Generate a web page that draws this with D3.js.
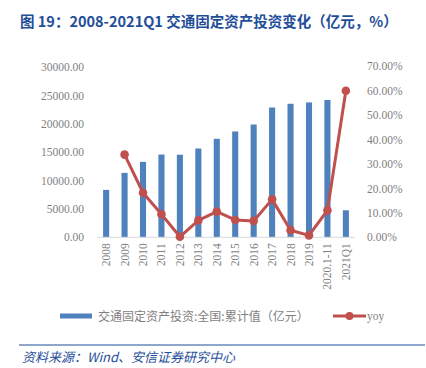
<!DOCTYPE html>
<html><head><meta charset="utf-8">
<script src="https://cdn.jsdelivr.net/npm/d3@7"></script>
<style>body{margin:0;background:#fff;}svg{display:block;}</style>
</head><body>
<svg id="c" width="426" height="368"></svg>
<script>
const categories = ["2008","2009","2010","2011","2012","2013","2014","2015","2016","2017","2018","2019","2020.1-11","2021Q1"];
const investment = [8350,11350,13290,14580,14550,15640,17350,18640,19870,22870,23520,23760,24180,4760];
const yoy = [null,33.8,18.2,9.4,0.2,6.9,10.5,7.1,6.7,15.5,2.9,0.8,11.0,59.9];
const leftTicks = [0,5000,10000,15000,20000,25000,30000];
const rightTicks = [0,10,20,30,40,50,60,70];

const svg = d3.select("#c");
const pLeft = 97, pRight = 355, pTop = 67, pBottom = 237.3;
const x = d3.scaleBand().domain(categories).range([pLeft, pRight]).paddingInner(0.67).paddingOuter(0.33);
const yL = d3.scaleLinear().domain([0,30000]).range([pBottom, pTop]);
const yR = d3.scaleLinear().domain([0,70]).range([pBottom, 66]);
const tickFont = "'Liberation Serif','Times New Roman',serif";
const gray = "#7f7f7f";

// title
svg.append("text").attr("x",20).attr("y",27).attr("fill","#1f4e99")
  .attr("font-family","'Noto Sans CJK SC',sans-serif").attr("font-weight","bold").attr("font-size",14.5)
  .text("图 19：2008-2021Q1 交通固定资产投资变化（亿元，%）");

// left axis
const gl = svg.append("g").attr("transform",`translate(${pLeft},0)`)
  .call(d3.axisLeft(yL).tickValues(leftTicks).tickFormat(d=>d3.format(".2f")(d)).tickSize(0).tickPadding(13));
gl.select(".domain").remove();
gl.selectAll("text").attr("font-family",tickFont).attr("font-size",11.5).attr("fill",gray);

// right axis
const gr = svg.append("g").attr("transform",`translate(${pRight},0)`)
  .call(d3.axisRight(yR).tickValues(rightTicks).tickFormat(d=>d3.format(".2f")(d)+"%").tickSize(0).tickPadding(12));
gr.select(".domain").remove();
gr.selectAll("text").attr("font-family",tickFont).attr("font-size",11.5).attr("fill",gray);

// bars
svg.append("g").selectAll("rect").data(investment).join("rect")
  .attr("x",(d,i)=>x(categories[i])).attr("width",x.bandwidth())
  .attr("y",d=>yL(d)).attr("height",d=>pBottom-yL(d)).attr("fill","#4f81bd");

// baseline
svg.append("line").attr("x1",pLeft).attr("x2",pRight).attr("y1",pBottom).attr("y2",pBottom)
  .attr("stroke","#d9d9d9").attr("stroke-width",1);

// x labels
const gx = svg.append("g").attr("transform",`translate(0,${pBottom})`)
  .call(d3.axisBottom(x).tickSize(0).tickPadding(0));
gx.select(".domain").remove();
gx.selectAll("text").attr("font-family",tickFont).attr("font-size",11.5).attr("fill",gray)
  .attr("text-anchor","end").attr("dy","0.35em")
  .attr("transform","translate(0,6) rotate(-90)");

// line
const pts = yoy.map((v,i)=>({c:categories[i],v})).filter(d=>d.v!==null);
const line = d3.line().x(d=>x(d.c)+x.bandwidth()/2).y(d=>yR(d.v));
svg.append("path").datum(pts).attr("d",line).attr("fill","none").attr("stroke","#c0504d").attr("stroke-width",3).attr("stroke-linejoin","round");
svg.append("g").selectAll("circle").data(pts).join("circle")
  .attr("cx",d=>x(d.c)+x.bandwidth()/2).attr("cy",d=>yR(d.v)).attr("r",4.3).attr("fill","#c0504d");

// legend
const ly = 316;
svg.append("rect").attr("x",60).attr("y",ly-2.5).attr("width",32).attr("height",5).attr("fill","#4f81bd");
svg.append("text").attr("x",98).attr("y",ly+4.5).attr("font-family","'Noto Sans CJK SC',sans-serif").attr("font-size",12).attr("fill",gray)
  .text("交通固定资产投资:全国:累计值（亿元）");
svg.append("line").attr("x1",333).attr("x2",366).attr("y1",ly).attr("y2",ly).attr("stroke","#c0504d").attr("stroke-width",3);
svg.append("circle").attr("cx",349.5).attr("cy",ly).attr("r",4).attr("fill","#c0504d");
svg.append("text").attr("x",367).attr("y",ly+4).attr("font-family",tickFont).attr("font-size",11.5).attr("fill",gray).text("yoy");

// source
svg.append("line").attr("x1",19).attr("x2",425).attr("y1",345).attr("y2",345).attr("stroke","#1f4e99").attr("stroke-width",1);
svg.append("text").attr("x",22).attr("y",362).attr("font-family","'Noto Sans CJK SC',sans-serif").attr("font-style","italic")
  .attr("font-size",13).attr("fill","#1f4e99").text("资料来源：Wind、安信证券研究中心");
</script>
</body></html>
